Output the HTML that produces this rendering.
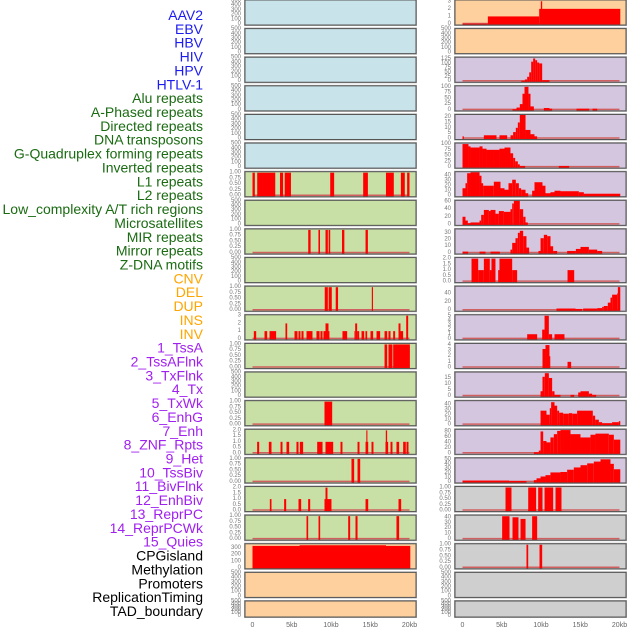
<!DOCTYPE html>
<html><head><meta charset="utf-8"><style>
html,body{margin:0;padding:0;background:#fff;}
svg{display:block;font-family:"Liberation Sans",sans-serif;}
</style></head><body>
<svg id="chart" width="630" height="630" viewBox="0 0 630 630"></svg>
<script>
// ---- labels ----
const labelNames = ["AAV2","EBV","HBV","HIV","HPV","HTLV-1","Alu repeats","A-Phased repeats","Directed repeats","DNA transposons","G-Quadruplex forming repeats","Inverted repeats","L1 repeats","L2 repeats","Low_complexity A/T rich regions","Microsatellites","MIR repeats","Mirror repeats","Z-DNA motifs","CNV","DEL","DUP","INS","INV","1_TssA","2_TssAFlnk","3_TxFlnk","4_Tx","5_TxWk","6_EnhG","7_Enh","8_ZNF_Rpts","9_Het","10_TssBiv","11_BivFlnk","12_EnhBiv","13_ReprPC","14_ReprPCWk","15_Quies","CPGisland","Methylation","Promoters","ReplicationTiming","TAD_boundary"];
const labelGroups = [6,13,5,15,5];
const groupColors = ["#1c1cf0","#1a6b12","#ffa500","#a020f0","#000000"];
const xTickLabels = ["0","5kb","10kb","15kb","20kb"];
const xTickValues = [0,5,10,15,20];
const emptyTicks = [0,100,200,300,400,500];
const unitTicks = [0,0.25,0.5,0.75,1];
const twoTicks = [0,0.5,1,1.5,2];

// ---- left column segments [startKb, endKb, value] ----
const segL6 = [[0,0.3,1],[0.6,2.9,1],[3.5,3.9,1],[4.1,4.9,1],[9.9,10.4,1],[14.1,14.7,1],[17.0,18.0,1],[18.9,19.4,1],[19.7,20,1]];
const segL8 = [[7.1,7.4,1],[8.4,8.6,1],[9.3,9.6,1],[9.7,9.9,1],[11.4,11.7,1],[14.4,14.7,1]];
const segL10 = [[9.2,9.6,1],[9.7,10.1,1],[10.6,10.9,1],[15.2,15.35,1]];
const segL11 = [[0.17,0.47,1],[1.53,1.87,1],[2.17,3.01,1],[4.2,4.42,2],[5.35,5.73,1],[5.86,6.11,1],[6.24,6.5,1],[6.88,7.64,1],[8.15,8.54,1],[8.66,8.92,1],[9.04,9.3,1],[9.3,9.68,2],[9.68,9.8,1],[11.46,12.06,1],[12.99,13.08,1],[13.08,13.33,2],[13.33,13.59,1],[13.89,14.23,1],[14.39,14.61,1],[15.03,15.37,1],[15.8,16.26,1],[16.82,17.16,1],[17.32,17.58,1],[17.92,18.17,1],[18.6,18.85,2],[18.85,19.19,1],[19.58,19.83,3]];
const segL12 = [[16.82,17.16,1],[17.32,17.83,1],[17.92,20.05,1]];
const segL14 = [[9.17,10.15,1]];
const segL15 = [[0.59,0.85,1],[2.08,2.42,1],[3.57,3.82,1],[4.33,4.67,1],[5.6,5.86,1],[6.03,6.45,1],[8.24,8.92,1],[9.3,10.28,1],[11.21,11.46,1],[13.38,13.63,1],[14.4,14.74,1],[14.5,14.64,2],[15.16,15.41,1],[16.94,17.28,1],[16.98,17.15,2],[17.58,17.83,1],[18.34,18.68,1],[19.19,19.53,1],[19.62,19.87,1]];
const segL16 = [[12.61,12.95,1],[13.38,13.72,1]];
const segL17 = [[2.21,2.42,1],[4.03,4.29,1],[5.86,6.2,1],[7.09,7.35,1],[9.17,10.06,1],[9.3,9.55,2],[14.4,14.74,1],[18.6,18.94,1]];
const segL18 = [[6.88,7.09,1],[8.41,8.62,1],[12.19,12.44,1],[13.12,13.38,1],[18.34,18.68,1]];
const segL19 = [[0,20.1,335],[6,17,345]];

// ---- right column segments ----
const segR0 = [[0,3.23,0.05],[3.23,9.77,1],[9.77,20.1,2],[9.98,10.15,3]];
const segR2 = [[7.5,7.94,3],[7.94,8.24,10],[8.24,8.5,25],[8.5,8.75,50],[8.75,9.0,110],[9.0,9.26,128],[9.26,9.51,118],[9.51,9.77,105],[9.77,10.15,100],[10.15,11.08,6]];
const segR3 = [[6.37,6.88,3],[6.88,7.3,10],[7.3,7.64,25],[7.64,7.9,70],[7.9,8.4,100],[8.4,8.66,70],[8.66,9.09,15],[10.36,11.08,8],[11.08,11.42,5],[14.52,16.14,5],[16.56,17.16,5]];
const segR4 = [[0,0.17,2],[2.72,4.33,3],[4.71,5.69,3],[6.12,6.45,3],[6.45,6.79,6],[6.79,7.05,10],[7.05,7.3,15],[7.3,8.03,22],[8.03,8.66,8],[8.66,9.17,4],[9.17,9.51,2]];
const segR5 = [[0,0.76,100],[0.76,1.02,90],[1.02,2.17,85],[2.17,2.55,90],[2.55,3.06,80],[3.06,3.95,75],[3.95,4.71,75],[4.71,5.35,80],[5.35,6.11,85],[6.11,6.45,60],[6.45,6.71,40],[6.71,7.05,25],[7.05,7.3,12],[7.3,7.98,5],[12.27,13.59,5]];
const segR6 = [[0,0.38,15],[0.38,0.59,25],[0.59,1.02,45],[1.02,2.17,47],[2.17,2.42,40],[2.42,2.63,25],[2.63,3.99,20],[3.99,4.84,28],[4.84,5.35,15],[5.35,5.86,12],[5.86,6.33,25],[6.33,6.79,32],[6.79,7.18,25],[7.18,7.47,15],[7.47,8.03,12],[8.03,8.37,5],[8.87,9.17,10],[9.17,10.19,27],[10.19,10.57,20],[10.57,11.21,5],[11.21,11.72,7],[11.72,12.48,10],[12.48,14.82,9],[14.82,15.46,7],[15.46,20.1,4]];
const segR7 = [[0,0.38,20],[0.38,0.68,10],[0.68,1.02,3],[1.02,2.17,5],[2.17,2.38,10],[2.38,2.72,25],[2.72,3.36,38],[3.36,3.57,35],[3.57,4.2,38],[4.2,4.63,28],[4.63,5.27,35],[5.27,6.11,33],[6.11,6.33,40],[6.33,6.54,55],[6.54,7.3,62],[7.3,7.73,40],[7.73,8.03,20],[8.03,8.32,5]];
const segR8 = [[0,0.72,2],[2.17,2.93,2],[3.57,4.76,2],[6.11,6.33,5],[6.33,6.75,15],[6.75,7.05,22],[7.05,7.3,30],[7.3,7.73,33],[7.73,8.15,25],[8.15,8.49,8],[9.68,9.94,3],[9.94,10.36,22],[10.36,10.79,27],[10.79,11.21,25],[11.21,11.55,10],[11.55,12.06,3],[13.33,14.44,3],[14.44,15.03,6],[15.03,16.1,9],[16.1,17.16,5],[17.16,17.79,3]];
const segR9 = [[1.15,2.0,2],[2.0,2.72,1],[2.72,3.48,2],[3.48,3.69,1],[3.69,4.2,2],[4.54,4.71,1],[4.71,6.33,2],[6.33,6.96,1],[13.38,14.23,1]];
const segR10 = [[11.97,14.4,4],[14.4,15.25,3],[15.37,17.16,4],[17.16,17.79,5],[17.79,18.0,8],[18.0,18.51,10],[18.51,18.85,18],[18.85,19.06,30],[19.06,19.7,37],[19.7,19.79,40],[19.79,20.1,55]];
const segR11 = [[8.24,9.51,1],[10.15,10.45,2],[10.45,11.0,5],[11.0,11.42,1],[11.72,12.99,1]];
const segR12 = [[10.19,10.57,3.3],[10.57,11.08,4],[11.08,11.17,2],[13.38,13.84,1]];
const segR13 = [[9.94,10.19,4],[10.19,10.49,16],[10.49,11.0,19],[11.0,11.42,15],[11.42,11.72,4],[11.72,12.48,1],[13.76,14.23,1],[14.74,15.03,3],[15.03,16.1,4],[16.1,16.52,2],[16.52,17.03,1]];
const segR14 = [[9.94,10.7,28],[10.7,11.12,20],[11.12,11.29,33],[11.29,11.72,45],[11.72,12.06,38],[12.06,12.31,28],[12.31,12.82,24],[12.82,13.55,22],[13.55,13.97,23],[13.97,14.6,22],[14.6,16.6,28],[16.6,16.9,18],[16.9,17.37,10],[17.37,17.79,5],[17.79,19.06,3],[19.06,19.91,5],[19.91,20.1,7]];
const segR15 = [[9.09,9.72,4],[9.72,9.94,10],[9.94,10.28,80],[10.28,10.7,45],[10.7,11.2,40],[11.2,11.63,58],[11.63,12.06,70],[12.06,12.48,82],[12.48,13.76,85],[13.76,15.03,70],[15.03,16.3,58],[16.3,16.94,68],[16.94,18.64,72],[18.64,19.28,68],[19.28,20.1,50]];
const segR16 = [[0,5.94,3],[5.94,8.15,2],[9.09,9.43,4],[9.43,9.94,8],[9.94,10.57,12],[10.57,11.2,15],[11.2,12.48,21],[12.48,13.33,22],[13.33,14.18,27],[14.18,15.03,32],[15.03,15.88,37],[15.88,16.73,41],[16.73,17.58,45],[17.58,18.85,50],[18.85,19.28,40],[19.28,20.1,28]];
const segR17 = [[5.48,6.24,1],[8.37,9.38,1],[9.64,10.19,1],[10.45,11.55,1],[11.85,12.61,1]];
const segR18 = [[5.05,5.99,42],[6.37,7.13,40],[7.39,8.03,37],[8.87,9.51,42]];
const segR19 = [[8.15,8.37,1],[9.81,10.15,1]];

const leftRows = [
 ["aav2-track","#c9e3eb",null,500,emptyTicks],["ebv-track","#c9e3eb",null,500,emptyTicks],["hbv-track","#c9e3eb",null,500,emptyTicks],
 ["hiv-track","#c9e3eb",null,500,emptyTicks],["hpv-track","#c9e3eb",null,500,emptyTicks],["htlv-track","#c9e3eb",null,500,emptyTicks],
 ["track-l6","#c8e0a5",segL6,1.02,unitTicks],["track-l7","#c8e0a5",null,500,emptyTicks],["track-l8","#c8e0a5",segL8,1.02,unitTicks],
 ["track-l9","#c8e0a5",null,500,emptyTicks],["track-l10","#c8e0a5",segL10,1.02,unitTicks],["track-l11","#c8e0a5",segL11,3.05,[0,1,2,3]],
 ["track-l12","#c8e0a5",segL12,1.02,unitTicks],["track-l13","#c8e0a5",null,500,emptyTicks],["track-l14","#c8e0a5",segL14,1.02,unitTicks],
 ["track-l15","#c8e0a5",segL15,2.05,twoTicks],["track-l16","#c8e0a5",segL16,1.02,unitTicks],["track-l17","#c8e0a5",segL17,2.05,twoTicks],
 ["track-l18","#c8e0a5",segL18,1.02,unitTicks],["track-l19","#fdd09e",segL19,360,[0,100,200,300]],["track-l20","#fdd09e",null,500,emptyTicks],
 ["track-l21","#fdd09e",null,500,emptyTicks]
];
const rightRows = [
 ["track-r0","#fdd09e",segR0,3.1,[0,1,2,3]],["track-r1","#fdd09e",null,500,emptyTicks],["track-r2","#d5c6e0",segR2,132,[0,25,50,75,100,125]],
 ["track-r3","#d5c6e0",segR3,102,[0,25,50,75,100]],["track-r4","#d5c6e0",segR4,22,[0,5,10,15,20]],["track-r5","#d5c6e0",segR5,102,[0,25,50,75,100]],
 ["track-r6","#d5c6e0",segR6,47,[0,10,20,30,40]],["track-r7","#d5c6e0",segR7,62,[0,20,40,60]],["track-r8","#d5c6e0",segR8,35,[0,10,20,30]],
 ["track-r9","#d5c6e0",segR9,2.05,twoTicks],["track-r10","#d5c6e0",segR10,56,[0,20,40]],["track-r11","#d5c6e0",segR11,5.1,[0,1,2,3,4,5]],
 ["track-r12","#d5c6e0",segR12,4.2,[0,1,2,3,4]],["track-r13","#d5c6e0",segR13,19.5,[0,5,10,15]],["track-r14","#d5c6e0",segR14,47,[0,10,20,30,40]],
 ["track-r15","#d5c6e0",segR15,86,[0,20,40,60,80]],["track-r16","#d5c6e0",segR16,52,[0,10,20,30,40,50]],["track-r17","#cfcfcf",segR17,1.02,unitTicks],
 ["track-r18","#cfcfcf",segR18,43,[0,10,20,30,40]],["track-r19","#cfcfcf",segR19,1.02,unitTicks],["track-r20","#cfcfcf",null,500,emptyTicks],
 ["track-r21","#cfcfcf",null,500,emptyTicks]
];

const NS = "http://www.w3.org/2000/svg";
const svg = document.getElementById("chart");
function mk(tag, attrs, parent){ const e=document.createElementNS(NS,tag); for(const k in attrs) e.setAttribute(k,attrs[k]); (parent||svg).appendChild(e); return e; }

// labels
let idx=0;
labelGroups.forEach((n,g)=>{ for(let i=0;i<n;i++){ const t=mk("text",{x:203,y:15+idx*13.86,"text-anchor":"end","dominant-baseline":"central","font-size":"14",fill:groupColors[g]}); t.textContent=labelNames[idx];
 
 
 idx++; } });

function fmt(v, ticks){ const mx=Math.max(...ticks); if(mx===1) return v.toFixed(2); if(mx===2) return v.toFixed(1); return String(v); }

function drawColumn(rows, px0, zeroX){
  const pw = 171, kbScale = 7.85;
  const xScale = kb => zeroX + kb*kbScale;
  rows.forEach((r,i)=>{
    const top = i*28.62, h = (i===21)?16:25, bottom = top+h;
    const yScale = v => bottom - 1 - (v/r[3])*(h-1.5);
    const g = mk("g",{});
    
    
    mk("rect",{x:px0-0.5,y:top-0.5,width:pw+1,height:h+1,fill:"none",stroke:"#aaa","stroke-width":1},g);
    const bg = mk("rect",{x:px0,y:top,width:pw,height:h,fill:r[1]},g);
    
    
    if(r[2]){
      const base = mk("line",{x1:xScale(0),x2:xScale(20),y1:bottom-1.5,y2:bottom-1.5,stroke:"#d06060","stroke-width":1.5},g);
      
      
      r[2].forEach(s=>{
        const x1=xScale(s[0]), x2=xScale(s[1]), y=yScale(s[2]);
        const b = mk("rect",{x:x1,y:Math.max(top,y),width:Math.max(0.8,x2-x1),height:Math.max(0,bottom-Math.max(top,y)),fill:"#ff0000"},g);
        
        
      });
    }
    mk("rect",{x:px0,y:top,width:pw,height:h,fill:"none",stroke:"#555","stroke-width":1},g);
    r[4].forEach(t=>{
      const y = yScale(t);
      const tx = mk("text",{x:px0-4,y:y,"text-anchor":"end","dominant-baseline":"central","font-size":"6",fill:"#777"},g);
      tx.textContent = fmt(t, r[4]);
      
      
    });
  });
  xTickValues.forEach((v,k)=>{
    const t = mk("text",{x:xScale(v),y:627,"text-anchor":"middle","font-size":"7",fill:"#666"});
    t.textContent = xTickLabels[k];
    
    
  });
}
drawColumn(leftRows, 245, 252.5);
drawColumn(rightRows, 455, 462.5);
</script>
</body></html>
